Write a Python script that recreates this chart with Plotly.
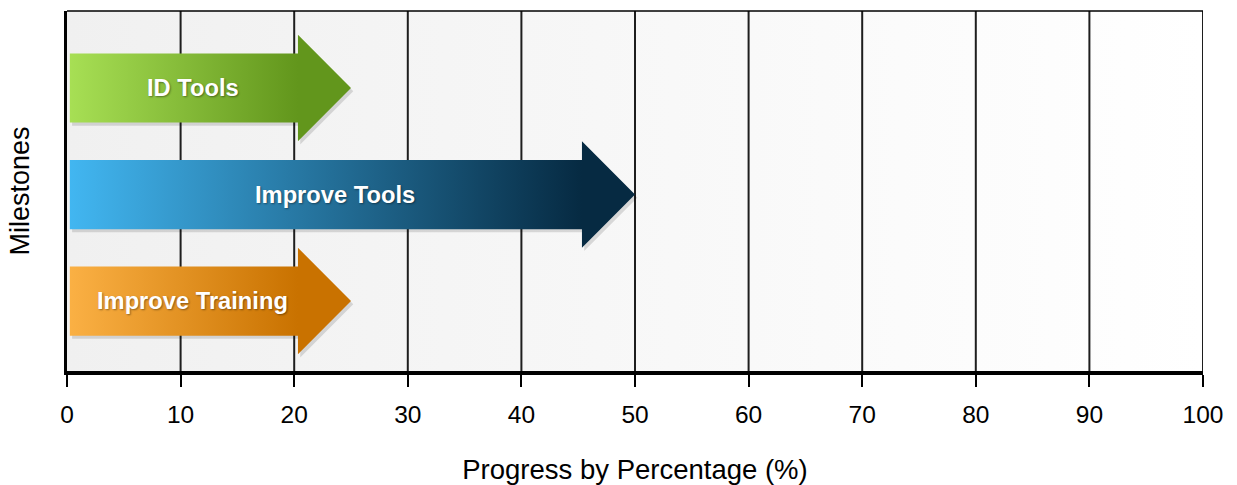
import plotly.graph_objects as go

# ---- data ----
milestones = ["ID Tools", "Improve Tools", "Improve Training"]
progress = [25, 50, 25]
row_pos = [2, 1, 0]
colors_start = ["#a8e055", "#42b7f2", "#fbb145"]
colors_end = ["#62961c", "#062a42", "#c97200"]
tick_vals = [0, 10, 20, 30, 40, 50, 60, 70, 80, 90, 100]

# ---- style constants ----
X_MIN, X_MAX = 0, 100
Y_MIN, Y_MAX = -0.657, 2.723
HEAD_LEN = 4.67      # arrow head length (x units)
HEAD_HALF = 0.50     # arrow head half height (y units)
BODY_HALF = 0.325    # arrow body half height (y units)
FONT = "Liberation Sans, Arial, sans-serif"

fig = go.Figure()

# background gradient
fig.add_trace(go.Scatter(
    x=[X_MIN, X_MAX, X_MAX, X_MIN, X_MIN],
    y=[Y_MIN, Y_MIN, Y_MAX, Y_MAX, Y_MIN],
    mode="lines", line=dict(width=0), fill="toself",
    fillgradient=dict(type="horizontal",
                      colorscale=[[0, "#f0f0f0"], [1, "#ffffff"]],
                      start=X_MIN, stop=X_MAX),
    hoverinfo="skip", showlegend=False))

# vertical grid lines
gx, gy = [], []
for t in tick_vals[1:]:
    gx += [t, t, None]
    gy += [Y_MIN, Y_MAX, None]
fig.add_trace(go.Scatter(x=gx, y=gy, mode="lines",
                         line=dict(color="#1e1e1e", width=2),
                         hoverinfo="skip", showlegend=False))

# arrows
for name, val, yc, c0, c1 in zip(milestones, progress, row_pos, colors_start, colors_end):
    base = val - HEAD_LEN
    x0 = 0.25
    xs = [x0, base, base, val, base, base, x0, x0]
    ys = [yc + BODY_HALF, yc + BODY_HALF, yc + HEAD_HALF, yc,
          yc - HEAD_HALF, yc - BODY_HALF, yc - BODY_HALF, yc + BODY_HALF]
    # soft shadow
    fig.add_trace(go.Scatter(
        x=[v + 0.2 for v in xs], y=[v - 0.03 for v in ys],
        mode="lines", line=dict(width=0), fill="toself",
        fillcolor="rgba(0,0,0,0.13)", hoverinfo="skip", showlegend=False))
    fig.add_trace(go.Scatter(
        x=xs, y=ys, mode="lines", line=dict(width=0), fill="toself",
        fillgradient=dict(type="horizontal",
                          colorscale=[[0, c0], [1, c1]],
                          start=0, stop=base),
        name=name, showlegend=False))
    fig.add_annotation(x=base / 2 + 0.9, y=yc, text=name, showarrow=False,
                       font=dict(family=FONT, size=23.7, color="white",
                                 weight="bold",
                                 shadow="1px 1px 2px rgba(0,0,0,0.4)"),
                       xanchor="center", yanchor="middle")

# top border line
fig.add_shape(type="line", xref="paper", yref="paper", x0=0, x1=1, y0=1, y1=1,
              line=dict(color="black", width=1.5))

fig.update_layout(
    width=1237, height=485,
    margin=dict(l=67, r=34, t=11, b=114),
    paper_bgcolor="white", plot_bgcolor="white",
    font=dict(family=FONT, color="black"),
    xaxis=dict(range=[X_MIN, X_MAX], tickvals=tick_vals, automargin=False,
               showgrid=False, zeroline=False,
               showline=True, linecolor="black", linewidth=4,
               ticks="outside", ticklen=12, tickwidth=2, tickcolor="black",
               tickfont=dict(size=24.5, family=FONT), ticklabelstandoff=7,
               title=dict(text="Progress by Percentage (%)",
                          font=dict(size=27.5, family=FONT), standoff=33)),
    yaxis=dict(range=[Y_MIN, Y_MAX], showgrid=False, zeroline=False,
               automargin=False,
               showticklabels=False, ticks="",
               showline=True, linecolor="black", linewidth=3,
               title=dict(text="Milestones", font=dict(size=27, family=FONT),
                          standoff=27)),
)

fig.write_html("out.html")
